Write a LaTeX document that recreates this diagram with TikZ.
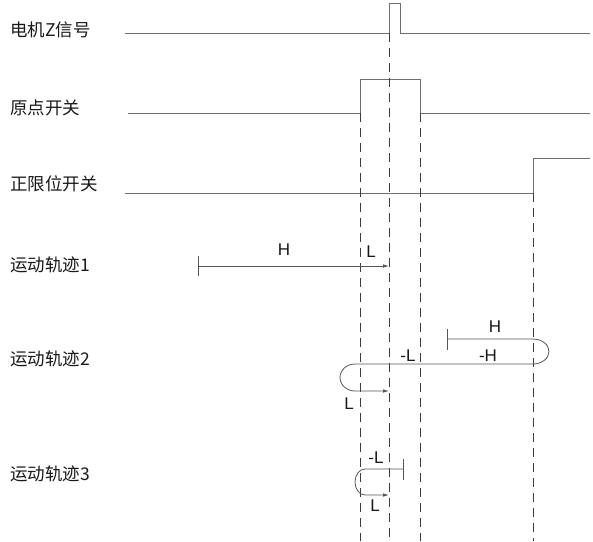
\documentclass[tikz,border=0pt]{standalone}
\usepackage{fontspec}
\setmainfont{Liberation Sans}
\newfontfamily\cjk{Noto Sans CJK SC}
\usepackage{tikz}
\usetikzlibrary{arrows.meta,positioning,calc}
\definecolor{siggrey}{RGB}{110,110,110}
\definecolor{trackgrey}{RGB}{85,85,85}
\definecolor{dashgrey}{RGB}{60,60,60}

\begin{document}
\begin{tikzpicture}[x=1pt, y=-1pt,
    sig/.style={draw=siggrey, line width=0.9pt},
    track/.style={draw=trackgrey, line width=0.8pt},
    guide/.style={draw=dashgrey, line width=0.7pt, dash pattern=on 9pt off 6pt},
    rowlabel/.style={anchor=west, inner sep=0pt, font=\cjk\fontsize{17.5}{20}\selectfont, text=black!90},
    speed/.style={inner sep=0pt, font=\fontsize{17}{19}\selectfont, text=black!90},
    tip/.style={-{Latex[length=6pt,width=3.6pt]}}]
\useasboundingbox (0,0) rectangle (593,541);
% row labels on the left
\node[rowlabel] (lz)  at (10, 30)  {电机Z信号};
\node[rowlabel] (lo)  at (10, 108) {原点开关};
\node[rowlabel] (lp)  at (10, 184) {正限位开关};
\node[rowlabel] (lt1) at (10, 265) {运动轨迹1};
\node[rowlabel] (lt2) at (10, 359) {运动轨迹2};
\node[rowlabel] (lt3) at (10, 474) {运动轨迹3};
% edges of the signals (tops of the dashed guides)
\coordinate (oup) at (360,113);
\coordinate (zup) at (389,33);
\coordinate (odn) at (420,113);
\coordinate (pup) at (533,193);
% motor Z pulse
\draw[sig] (125,33) -- (zup) -- (389,3) -- (400,3) -- (400,33) -- (590,33);
% origin switch
\draw[sig] (128,113) -- (oup) -- (360,79) -- (420,79) -- (odn) -- (590,113);
% positive limit switch
\draw[sig] (125,193) -- (pup) -- (533,158) -- (590,158);
% dashed guides down to the bottom
\foreach \c in {oup,zup,odn,pup}
  \draw[guide] (\c) -- (\c |- 0,541);
% track 1
\coordinate (t1s) at (198,266);
\draw[track] (198,256) -- (198,276);
\draw[track, tip] (t1s) -- (t1s -| zup);
\node[speed] (t1h) at (284,250) {H};
\node[speed] (t1l) at (371,252) {L};
% track 2 (start at the tick, bounce off the limit, come back past origin)
\coordinate (t2s) at (447,339);
\draw[track] (447,329) -- (447,350);
\draw[track, tip] (t2s) -- (533,339)
  arc[start angle=-90, end angle=90, x radius=16, y radius=12.5]
  -- (355,364)
  arc[start angle=270, end angle=90, x radius=15, y radius=13.5]
  -- (389,391);
\node[speed] (t2h)  at (495,327) {H};
\node[speed] (t2mh) at (488,356) {-H};
\node[speed] (t2ml) at (408,356) {-L};
\node[speed] (t2l)  at (349,404) {L};
% track 3
\coordinate (t3s) at (403,469);
\draw[track] (403,459) -- (403,480);
\draw[track, tip] (t3s) -- (365,469)
  arc[start angle=270, end angle=90, x radius=10, y radius=13]
  -- (389,495);
\node[speed] (t3ml) at (376,458) {-L};
\node[speed] (t3l)  at (375,506) {L};
\end{tikzpicture}
\end{document}
